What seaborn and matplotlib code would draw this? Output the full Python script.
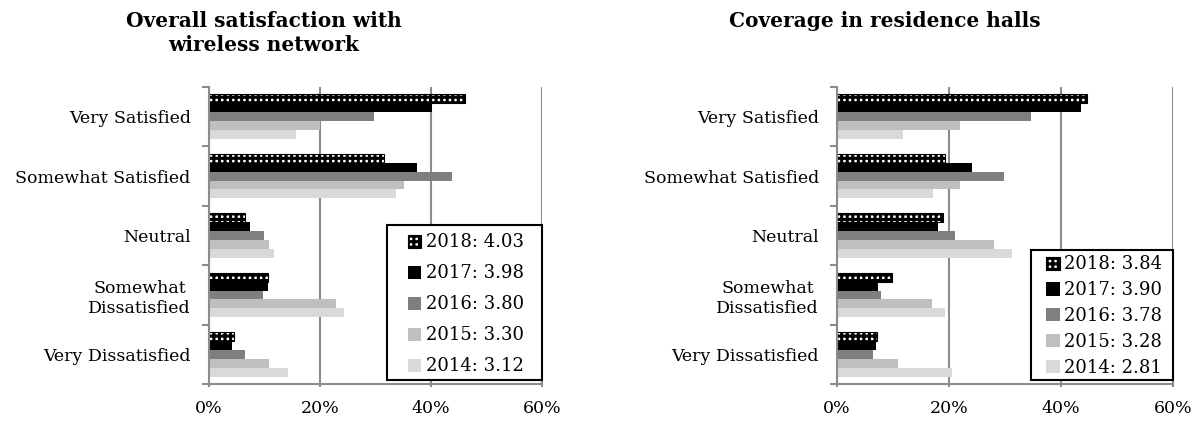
import numpy as np
import pandas as pd
import matplotlib
matplotlib.use("Agg")
import matplotlib.pyplot as plt
import matplotlib.ticker as mtick
from matplotlib.patches import Rectangle
import seaborn as sns

# Data (percent of respondents)
categories = ["Very Satisfied", "Somewhat Satisfied", "Neutral",
              "Somewhat\nDissatisfied", "Very Dissatisfied"]
years = ["2018", "2017", "2016", "2015", "2014"]

# Overall satisfaction with wireless network
wifi_means = ["4.03", "3.98", "3.80", "3.30", "3.12"]
wifi_2018 = [46.2, 31.5, 6.6, 10.7, 4.6]
wifi_2017 = [40.3, 37.5, 7.4, 10.7, 4.1]
wifi_2016 = [29.8, 43.8, 10.0, 9.7, 6.5]
wifi_2015 = [20.0, 35.1, 10.9, 23.0, 10.9]
wifi_2014 = [15.8, 33.7, 11.8, 24.3, 14.3]

# Coverage in residence halls
hall_means = ["3.84", "3.90", "3.78", "3.28", "2.81"]
hall_2018 = [44.6, 19.3, 19.0, 9.9, 7.1]
hall_2017 = [43.6, 24.1, 18.0, 7.3, 6.9]
hall_2016 = [34.7, 29.9, 21.0, 7.8, 6.5]
hall_2015 = [22.0, 22.0, 28.0, 17.0, 10.9]
hall_2014 = [11.8, 17.1, 31.3, 19.2, 20.5]

colors = ["white", "#000000", "#7f7f7f", "#bfbfbf", "#d9d9d9"]

plt.rcParams["font.family"] = ["DejaVu Serif"]
plt.rcParams["hatch.linewidth"] = 2.2


def make_frame(series, means):
    rows = []
    for yr, mean, vals in zip(years, means, series):
        for cat, v in zip(categories, vals):
            rows.append({"category": cat, "year": f"{yr}: {mean}", "pct": v})
    return pd.DataFrame(rows)


def draw(ax, df, title, title_x, frame_box, leg_anchor, leg_spacing):
    hue_order = list(dict.fromkeys(df["year"]))
    sns.barplot(data=df, x="pct", y="category", hue="year", hue_order=hue_order,
                order=categories, orient="h", palette=colors, width=0.75,
                legend=False, ax=ax, saturation=1, linewidth=0)
    # checkered 2018 bars: white cells on a black grid
    for p in ax.containers[0].patches:
        p.set_hatch("+++")
        p.set_edgecolor("black")
        p.set_linewidth(0.8)

    ax.set_xlim(0, 60)
    ax.set_ylim(4.5, -0.5)
    ax.xaxis.set_major_locator(mtick.MultipleLocator(20))
    ax.xaxis.set_major_formatter(mtick.FormatStrFormatter("%d%%"))
    ax.grid(axis="x", color="#8c8c8c", linewidth=1.5)
    ax.grid(axis="y", visible=False)
    ax.set_axisbelow(True)
    ax.set_xlabel("")
    ax.set_ylabel("")
    for s in ["top", "right"]:
        ax.spines[s].set_visible(False)
    for s in ["left", "bottom"]:
        ax.spines[s].set_color("#8c8c8c")
        ax.spines[s].set_linewidth(1.5)
    ax.tick_params(axis="x", length=5, color="#8c8c8c", width=1.5,
                   labelsize=12.5, pad=9, direction="inout")
    ax.tick_params(axis="y", length=0, labelsize=12.5, pad=13)
    ax.yaxis.set_minor_locator(mtick.FixedLocator(np.arange(-0.5, 5, 1)))
    ax.tick_params(axis="y", which="minor", length=5, color="#8c8c8c", width=1.5)
    for lab in ax.get_yticklabels():
        lab.set_multialignment("center")

    # legend box drawn separately so its padding can match the original
    x0, y0, w, h = frame_box
    ax.add_patch(Rectangle((x0, y0), w, h, transform=ax.transAxes,
                           facecolor="white", edgecolor="black", linewidth=1.5,
                           clip_on=False, zorder=4))
    ax.legend(ax.containers, hue_order, loc="upper left",
              bbox_to_anchor=leg_anchor, fontsize=13, frameon=False,
              handlelength=0.75, handleheight=0.75, handletextpad=0.25,
              labelspacing=leg_spacing, borderpad=0, borderaxespad=0)

    ax.get_figure().text(title_x, 0.975, title, ha="center", va="top",
                         fontsize=14.5, fontweight="bold", linespacing=1.3)


fig = plt.figure(figsize=(12, 4.24), dpi=100)
ax1 = fig.add_axes([0.174, 0.094, 0.2775, 0.701])
ax2 = fig.add_axes([0.6975, 0.094, 0.28, 0.701])

wifi = make_frame([wifi_2018, wifi_2017, wifi_2016, wifi_2015, wifi_2014], wifi_means)
hall = make_frame([hall_2018, hall_2017, hall_2016, hall_2015, hall_2014], hall_means)

draw(ax1, wifi, "Overall satisfaction with\nwireless network", 0.22,
     (0.535, 0.013, 0.465, 0.522), (0.598, 0.507), 0.72)
draw(ax2, hall, "Coverage in residence halls", 0.7375,
     (0.577, 0.013, 0.423, 0.438), (0.622, 0.433), 0.43)

fig.savefig("out.png", dpi=100)
